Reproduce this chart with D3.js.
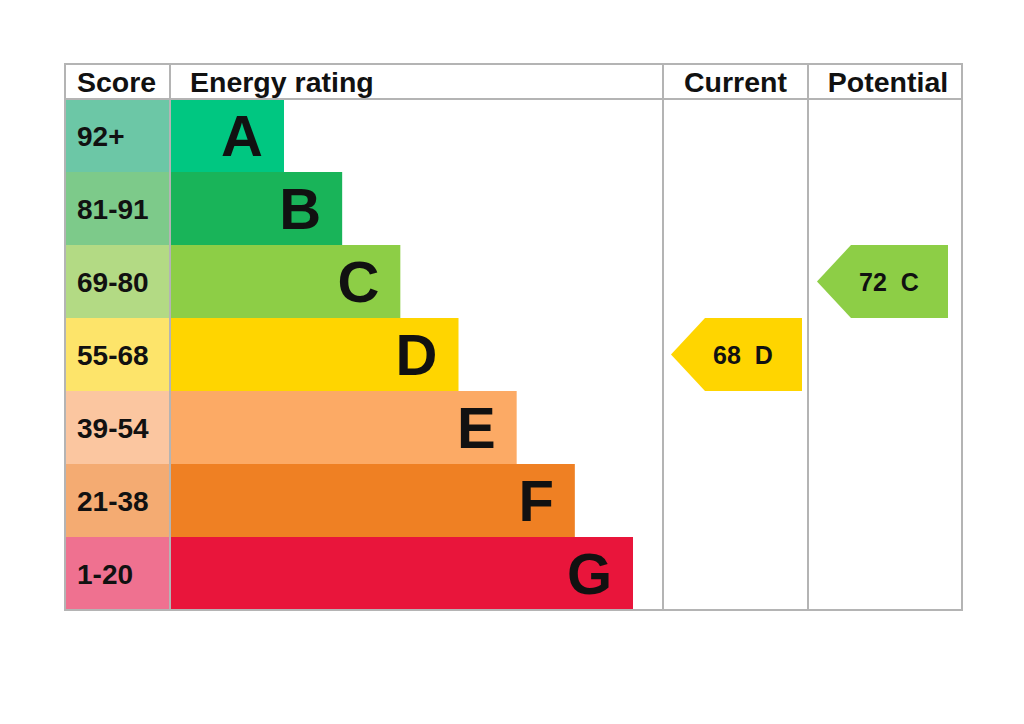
<!DOCTYPE html>
<html>
<head>
<meta charset="utf-8">
<script src="https://cdn.jsdelivr.net/npm/d3@7"></script>
<style>
  body { margin: 0; background: #fff; }
  text { font-family: "Liberation Sans", Arial, sans-serif; font-weight: bold; fill: #111; }
</style>
</head>
<body>
<div id="chart"></div>
<script>
// Rating bands, top to bottom
const bands = ["A", "B", "C", "D", "E", "F", "G"];
const scoreRanges = ["92+", "81-91", "69-80", "55-68", "39-54", "21-38", "1-20"];
const barColors = ["#00c781", "#19b459", "#8dce46", "#ffd500", "#fcaa65", "#ef8023", "#e9153b"];
const scoreColors = ["#6cc7a6", "#7dca8a", "#b3da84", "#fde46a", "#fbc6a0", "#f4ab72", "#ef7190"];
const barSteps = [2, 3, 4, 5, 6, 7, 8];

// Current / potential ratings
const ratings = [
  { column: "Current", score: 68, band: "D" },
  { column: "Potential", score: 72, band: "C" }
];
const headers = ["Score", "Energy rating", "Current", "Potential"];

const W = 1024, H = 724;
const mLeft = 65, mTop = 64, headerH = 35, mRight = 962, mBottom = 610;
const colX = [mLeft, 170, 663, 808, mRight];

const svg = d3.select("#chart").append("svg")
  .attr("width", W)
  .attr("height", H);

const y = d3.scaleBand()
  .domain(bands)
  .range([mTop + headerH, mBottom]);

const x = d3.scaleLinear()
  .domain([2, 8])
  .range([114, 463]);

const rows = bands.map((b, i) => ({
  band: b, range: scoreRanges[i], color: barColors[i], light: scoreColors[i], step: barSteps[i]
}));

// Score column cells
svg.selectAll("rect.score")
  .data(rows)
  .enter()
  .append("rect")
  .attr("class", "score")
  .attr("x", colX[0])
  .attr("y", d => y(d.band))
  .attr("width", colX[1] - colX[0])
  .attr("height", y.bandwidth())
  .attr("fill", d => d.light);

svg.selectAll("text.score")
  .data(rows)
  .enter()
  .append("text")
  .attr("class", "score")
  .attr("x", colX[0] + 12)
  .attr("y", d => y(d.band) + y.bandwidth() / 2)
  .attr("dy", "0.36em")
  .style("font-size", "28px")
  .text(d => d.range);

// Rating bars
svg.selectAll("rect.bar")
  .data(rows)
  .enter()
  .append("rect")
  .attr("class", "bar")
  .attr("x", colX[1])
  .attr("y", d => y(d.band))
  .attr("width", d => x(d.step))
  .attr("height", y.bandwidth())
  .attr("fill", d => d.color);

svg.selectAll("text.bar")
  .data(rows)
  .enter()
  .append("text")
  .attr("class", "bar")
  .attr("x", d => colX[1] + x(d.step) - 21)
  .attr("y", d => y(d.band) + y.bandwidth() / 2)
  .attr("dy", "0.36em")
  .attr("text-anchor", "end")
  .style("font-size", "58px")
  .text(d => d.band);

// Grid lines
const grid = svg.append("g")
  .attr("stroke", "#b4b4b4")
  .attr("stroke-width", 2)
  .attr("fill", "none");

grid.append("rect")
  .attr("x", mLeft)
  .attr("y", mTop)
  .attr("width", mRight - mLeft)
  .attr("height", mBottom - mTop);

grid.append("line")
  .attr("x1", mLeft).attr("x2", mRight)
  .attr("y1", mTop + headerH).attr("y2", mTop + headerH);

grid.selectAll("line.col")
  .data(colX.slice(1, 4))
  .enter()
  .append("line")
  .attr("class", "col")
  .attr("x1", d => d).attr("x2", d => d)
  .attr("y1", mTop).attr("y2", mBottom);

// Header labels
const headerPos = [
  { x: mLeft + 12, anchor: "start" },
  { x: colX[1] + 20, anchor: "start" },
  { x: (colX[2] + colX[3]) / 2, anchor: "middle" },
  { x: (colX[3] + colX[4]) / 2 + 3, anchor: "middle" }
];
svg.selectAll("text.header")
  .data(headers)
  .enter()
  .append("text")
  .attr("class", "header")
  .attr("x", (d, i) => headerPos[i].x)
  .attr("y", mTop + headerH / 2)
  .attr("dy", "0.36em")
  .attr("text-anchor", (d, i) => headerPos[i].anchor)
  .style("font-size", "28.5px")
  .text(d => d);

// Rating arrows
const colLeft = { Current: colX[2] + 8, Potential: colX[3] + 9 };
const arrowW = 131, tip = 34;
const bandColor = b => barColors[bands.indexOf(b)];

const arrows = svg.selectAll("g.arrow")
  .data(ratings)
  .enter()
  .append("g")
  .attr("class", "arrow")
  .attr("transform", d => `translate(${colLeft[d.column]},${y(d.band)})`);

arrows.append("path")
  .attr("d", d => {
    const h = y.bandwidth();
    return `M0,${h / 2} L${tip},0 L${arrowW},0 L${arrowW},${h} L${tip},${h} Z`;
  })
  .attr("fill", d => bandColor(d.band));

arrows.append("text")
  .attr("x", tip + 8)
  .attr("y", y.bandwidth() / 2)
  .attr("dy", "0.36em")
  .style("font-size", "25px")
  .style("white-space", "pre")
  .attr("xml:space", "preserve")
  .text(d => `${d.score}  ${d.band}`);
</script>
</body>
</html>
